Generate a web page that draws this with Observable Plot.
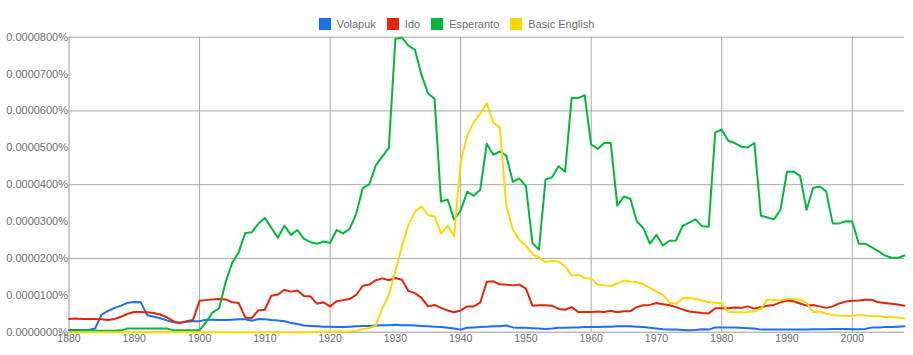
<!DOCTYPE html>
<html>
<head>
<meta charset="utf-8">
<script src="https://cdn.jsdelivr.net/npm/d3@7"></script>
<script src="https://cdn.jsdelivr.net/npm/@observablehq/plot@0.6"></script>
<style>
  html, body { margin: 0; padding: 0; background: #fff; }
  body { width: 913px; height: 355px; overflow: hidden; font-family: Arial, "Liberation Sans", sans-serif; }
  #legend { height: 30px; box-sizing: border-box; padding-top: 18px; display: flex; justify-content: center; padding-left: 0; }
  .item { display: flex; align-items: center; height: 12px; margin: 0 5.5px; }
  .sw { width: 12px; height: 12px; margin-right: 6px; }
  .lab { font-size: 11px; color: #6e6e6e; line-height: 12px; }
  #chart svg { display: block; }
</style>
</head>
<body>
<div id="legend"></div>
<div id="chart"></div>
<script>
// Series names and colours
const names = ["Volapuk", "Ido", "Esperanto", "Basic English"];
const colors = ["#1c6ef2", "#e1240a", "#00b83c", "#ffd800"];

// Years 1880..2008 (one value per year)
const years = d3.range(1880, 2009);

// Values in units of 0.0000001 %
const volapuk = [
  6,6,6,6,10,48,58,66,72,80,
  82,81,46,42,38,32,27,26,28,30,
  30,34,34,33,33,34,35,35,31,36,
  35,33,32,30,25,22,18,17,16,15,
  15,14,14,15,16,17,17,18,19,19,
  20,19,19,18,17,16,15,14,12,10,
  7,12,13,14,15,16,16,18,13,12,
  12,11,10,9,10,12,12,13,13,14,
  14,14,15,15,16,16,16,15,14,12,
  10,8,7,7,6,5,6,8,7,13,
  13,13,13,12,11,10,7,7,7,7,
  7,7,7,7,8,8,8,9,9,9,
  8,8,9,13,13,14,14,15,16
];
const ido = [
  36,37,36,36,36,35,33,36,42,50,
  55,55,54,52,48,40,30,24,30,33,
  85,87,89,90,89,81,79,40,38,59,
  61,99,102,115,110,113,98,97,77,81,
  70,84,87,90,101,126,129,141,146,141,
  147,142,112,106,93,70,74,66,59,54,
  59,70,70,80,137,138,130,129,127,129,
  118,72,73,73,72,63,61,68,55,55,
  55,56,55,58,54,57,57,68,73,74,
  79,76,73,68,62,56,54,52,51,65,
  65,65,67,66,70,64,68,72,74,81,
  86,84,78,72,74,70,66,70,78,83,
  85,86,88,88,81,79,77,75,72
];
const esperanto = [
  4,4,4,4,4,4,4,4,5,10,
  10,10,10,10,10,10,5,5,5,5,
  5,27,54,65,136,188,217,269,271,294,
  310,283,256,289,264,277,253,244,240,246,
  242,277,268,280,321,391,401,452,477,500,
  795,799,777,766,698,648,633,354,360,305,
  330,381,370,386,511,481,490,479,408,417,
  396,242,224,414,420,450,435,635,635,643,
  509,497,513,513,343,368,362,300,282,240,
  264,235,248,249,288,297,306,287,286,542,
  549,519,513,503,501,513,316,311,306,332,
  435,436,424,332,391,395,382,295,295,301,
  300,240,240,230,220,208,202,202,208
];
const basicEnglish = [
  0,0,0,0,0,0,0,0,0,0,
  0,0,0,0,0,0,0,0,0,0,
  0,0,0,0,0,0,0,0,0,0,
  0,0,0,0,0,0,0,0,1,1,
  1,1,1,2,4,9,11,18,65,100,
  165,233,291,327,341,318,314,267,289,260,
  461,533,569,592,621,569,555,343,278,251,
  235,212,203,190,194,192,179,154,156,147,
  145,129,127,125,132,140,137,136,130,120,
  110,102,80,77,92,93,90,86,81,80,
  78,55,54,54,55,57,63,89,87,86,
  90,90,88,80,54,56,50,47,45,44,
  44,47,45,43,44,41,41,40,37
];

// Axis ticks
const xTicks = [1880,1890,1900,1910,1920,1930,1940,1950,1960,1970,1980,1990,2000];
const xGrid = [1900,1920,1940,1960,1980,2000];
const yTicks = [0,100,200,300,400,500,600,700,800];
const yGrid = [200,400,600,800];

const seriesValues = [volapuk, ido, esperanto, basicEnglish];
const rows = names.flatMap((n, k) => years.map((yr, i) => ({year: yr, value: seriesValues[k][i], name: n})));

// Legend
const legend = document.getElementById("legend");
names.forEach((n, i) => {
  const it = document.createElement("div"); it.className = "item";
  const sw = document.createElement("div"); sw.className = "sw"; sw.style.background = colors[i];
  const lb = document.createElement("span"); lb.className = "lab"; lb.textContent = n;
  it.appendChild(sw); it.appendChild(lb); legend.appendChild(it);
});

const fmt = v => (v * 1e-7).toFixed(7) + "%";

const chart = Plot.plot({
  width: 913,
  height: 325,
  marginLeft: 68.5,
  marginRight: 9,
  marginTop: 6.7,
  marginBottom: 23.3,
  style: {fontFamily: "Arial, 'Liberation Sans', sans-serif", fontSize: "11px", color: "#6e6e6e", background: "#fff"},
  x: {domain: [1880, 2008], label: null},
  y: {domain: [0, 800], label: null},
  color: {domain: names, range: colors},
  marks: [
    Plot.gridX(xGrid, {stroke: "#a8a8a8", strokeOpacity: 1}),
    Plot.gridY(yGrid, {stroke: "#a8a8a8", strokeOpacity: 1}),
    Plot.axisX(xTicks, {tickSize: 0, tickPadding: 2.5, fontSize: 10.5, label: null, tickFormat: d => String(d)}),
    Plot.axisY(yTicks, {tickSize: 0, tickPadding: 1, label: null, tickFormat: fmt}),
    Plot.ruleX([1880], {stroke: "#9a9a9a"}),
    Plot.ruleY([0], {stroke: "#9a9a9a"}),
    Plot.line(rows, {x: "year", y: "value", z: "name", stroke: "name", strokeWidth: 2, strokeLinejoin: "round"})
  ]
});
document.getElementById("chart").appendChild(chart);
</script>
</body>
</html>
